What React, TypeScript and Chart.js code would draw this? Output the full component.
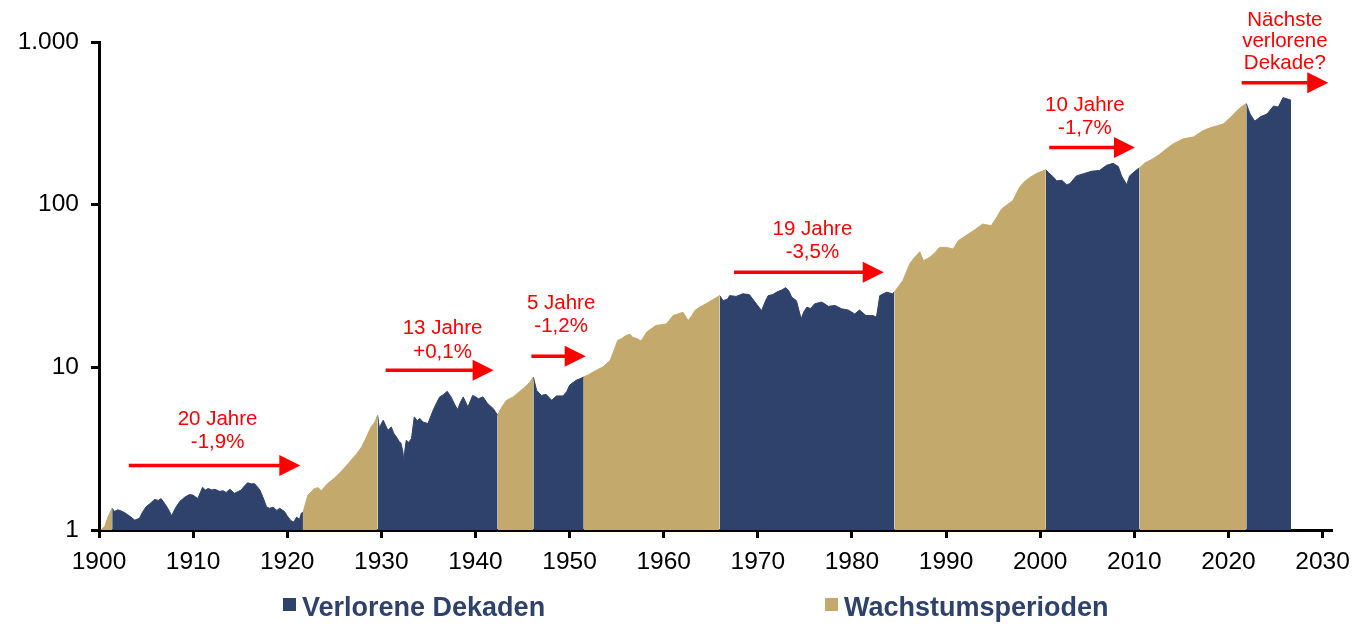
import React, { useEffect, useRef } from "react";
import { Chart, registerables } from "chart.js";

Chart.register(...registerables);

// ---------- data ----------
const years = [
  1900.2, 1900.6, 1901.0, 1901.4, 1901.65, 1902.0, 1902.36, 1902.7, 1903.06, 1903.4,
  1903.8, 1904.3, 1904.6, 1905.0, 1905.4, 1905.9, 1906.3, 1906.6, 1907.1, 1907.5,
  1907.7, 1908.2, 1908.6, 1909.1, 1909.6, 1909.97, 1910.5, 1911.0, 1911.3, 1911.6,
  1912.0, 1912.3, 1912.8, 1913.2, 1913.5, 1913.9, 1914.4, 1915.1, 1915.5, 1915.8,
  1916.2, 1916.5, 1916.8, 1917.1, 1917.4, 1917.8, 1918.1, 1918.5, 1918.9, 1919.2,
  1919.7, 1920.0, 1920.4, 1920.7, 1921.0, 1921.3, 1921.5, 1921.67, 1922.2, 1922.9,
  1923.3, 1923.6, 1924.3, 1925.0, 1925.7, 1926.2, 1926.8, 1927.4, 1927.9, 1928.4,
  1928.9, 1929.3, 1929.6, 1929.8, 1930.0, 1930.2, 1930.45, 1930.7, 1931.06, 1931.3,
  1931.6, 1931.9, 1932.1, 1932.3, 1932.4, 1932.5, 1932.65, 1932.9, 1933.2, 1933.5,
  1933.8, 1934.1, 1934.4, 1934.95, 1935.5, 1935.9, 1936.2, 1936.6, 1937.0, 1937.4,
  1937.8, 1938.1, 1938.4, 1938.7, 1939.2, 1939.7, 1940.0, 1940.3, 1940.8, 1941.3,
  1941.9, 1942.35, 1942.8, 1943.3, 1944.0, 1944.5, 1945.05, 1945.4, 1945.8, 1946.15,
  1946.5, 1947.0, 1947.5, 1948.1, 1948.6, 1949.3, 1949.7, 1950.0, 1950.7, 1951.1,
  1951.5, 1952.0, 1952.5, 1953.0, 1953.55, 1954.3, 1954.7, 1955.1, 1955.5, 1956.0,
  1956.4, 1956.7, 1957.2, 1957.6, 1958.2, 1958.7, 1959.2, 1959.8, 1960.3, 1960.7,
  1961.0, 1961.5, 1962.05, 1962.6, 1963.0, 1963.3, 1963.8, 1964.5, 1965.2, 1965.95,
  1966.3, 1966.8, 1967.0, 1967.7, 1968.4, 1969.1, 1969.7, 1970.4, 1970.8, 1971.1,
  1971.6, 1972.0, 1972.5, 1972.97, 1973.3, 1973.6, 1974.1, 1974.6, 1974.9, 1975.2,
  1975.6, 1976.05, 1976.8, 1977.5, 1978.2, 1978.9, 1979.6, 1980.3, 1980.8, 1981.5,
  1982.25, 1982.6, 1982.96, 1983.7, 1984.3, 1984.5, 1985.4, 1986.15, 1986.6, 1987.2,
  1987.6, 1988.3, 1988.8, 1989.3, 1990.05, 1990.75, 1991.3, 1992.1, 1992.9, 1993.9,
  1994.8, 1995.4, 1995.9, 1996.5, 1997.1, 1997.8, 1998.3, 1998.9, 1999.6, 2000.6,
  2000.85, 2001.4, 2001.75, 2002.3, 2002.8, 2003.15, 2003.85, 2004.55, 2005.45, 2006.3,
  2007.05, 2007.75, 2008.3, 2008.65, 2009.2, 2009.5, 2010.25, 2010.55, 2011.1, 2011.7,
  2012.2, 2012.7, 2013.4, 2014.1, 2015.2, 2016.3, 2017.3, 2018.0, 2018.75, 2019.45,
  2020.2, 2020.9, 2021.4, 2021.9, 2022.3, 2022.8, 2023.4, 2024.1, 2024.8, 2025.3,
  2025.8, 2026.4, 2026.65,
];

const values = [
  1.0, 1.05, 1.22, 1.36, 1.3, 1.33, 1.31, 1.28, 1.24, 1.2,
  1.15, 1.18, 1.28, 1.39, 1.45, 1.54, 1.52, 1.56, 1.42, 1.3,
  1.22, 1.39, 1.5, 1.59, 1.65, 1.64, 1.56, 1.83, 1.76, 1.8,
  1.76, 1.78, 1.73, 1.74, 1.7, 1.78, 1.68, 1.76, 1.88, 1.95,
  1.92, 1.93, 1.85, 1.76, 1.6, 1.39, 1.36, 1.38, 1.32, 1.36,
  1.3, 1.22, 1.14, 1.12, 1.2, 1.16, 1.27, 1.28, 1.64, 1.8,
  1.82, 1.74, 1.93, 2.08, 2.28, 2.45, 2.69, 2.95, 3.24, 3.7,
  4.3, 4.6, 5.08, 4.2, 4.51, 4.73, 4.4, 4.1, 4.3, 3.95,
  3.73, 3.5, 3.4, 3.0, 2.63, 3.1, 3.57, 3.45, 3.65, 4.96,
  4.7, 4.85, 4.62, 4.51, 5.45, 6.1, 6.58, 6.8, 7.12, 6.58,
  5.9, 5.5, 6.1, 6.58, 5.7, 6.72, 6.6, 6.41, 6.58, 5.98,
  5.57, 5.08, 5.7, 6.27, 6.58, 6.95, 7.39, 7.7, 8.13, 8.72,
  7.21, 6.72, 6.82, 6.27, 6.67, 6.67, 7.1, 7.77, 8.33, 8.5,
  8.72, 9.0, 9.35, 9.7, 10.05, 11.0, 12.6, 14.6, 15.0, 15.7,
  16.0, 15.3, 15.0, 14.5, 16.5, 17.3, 18.1, 18.3, 18.5, 19.8,
  20.8, 21.3, 21.8, 19.4, 20.8, 22.3, 23.4, 24.6, 26.0, 27.6,
  25.7, 26.3, 27.6, 27.3, 28.3, 28.0, 25.2, 22.3, 25.5, 27.6,
  28.0, 29.0, 29.8, 30.9, 29.5, 27.0, 25.7, 19.9, 22.0, 23.4,
  23.0, 24.6, 25.2, 23.7, 24.0, 22.9, 22.5, 21.3, 22.5, 20.8,
  20.8, 20.3, 27.6, 29.0, 28.3, 29.0, 34.1, 43.3, 47.0, 51.3,
  45.2, 47.6, 50.5, 54.6, 54.6, 53.3, 60.1, 64.5, 69.1, 76.0,
  74.2, 84.0, 94.0, 100.0, 105.9, 127.6, 138.0, 146.8, 155.4, 163.8,
  158.1, 148.0, 140.0, 141.1, 132.7, 134.6, 150.3, 154.6, 160.5, 162.2,
  174.5, 179.5, 171.7, 150.3, 132.7, 150.3, 163.8, 168.0, 180.0, 187.5,
  195.0, 204.4, 220.0, 236.0, 253.8, 261.0, 285.0, 296.0, 305.0, 313.0,
  343.0, 378.0, 400.0, 418.0, 361.0, 326.0, 347.0, 361.0, 404.0, 398.0,
  455.0, 444.0, 438.0,
];

// period boundaries (years) and the kind of each period between them
const periodBounds = [
  1900.2, 1901.4, 1921.67, 1929.6, 1942.35, 1946.15, 1951.5, 1965.95, 1984.5, 2000.6,
  2010.55, 2021.9, 2026.65,
];
const periodKinds = [
  "growth", "lost", "growth", "lost", "growth", "lost",
  "growth", "lost", "growth", "lost", "growth", "lost",
];

const seriesNames = ["Verlorene Dekaden", "Wachstumsperioden"];
const xTicks = [1900, 1910, 1920, 1930, 1940, 1950, 1960, 1970, 1980, 1990, 2000, 2010, 2020, 2030];
const yTicks = [1, 10, 100, 1000];
const yTickLabels = ["1", "10", "100", "1.000"];

// annotations: text lines and arrow (in data coordinates)
const annoLines = [
  ["20 Jahre", "-1,9%"],
  ["13 Jahre", "+0,1%"],
  ["5 Jahre", "-1,2%"],
  ["19 Jahre", "-3,5%"],
  ["10 Jahre", "-1,7%"],
  ["Nächste", "verlorene", "Dekade?"],
];
const annoTextYear = [1912.6, 1936.5, 1949.1, 1975.8, 2004.75, 2026.0];
const annoTextValue = [4.8, 17.3, 24.8, 71.0, 409, 1365];
const arrowFrom = [1903.17, 1930.45, 1945.94, 1967.47, 2000.96, 2021.41];
const arrowTo = [1921.39, 1941.93, 1951.71, 1983.38, 2010.07, 2030.61];
const arrowValue = [2.49, 9.59, 11.68, 38.4, 224.6, 562.6];

// ---------- styles ----------
const NAVY = "#2F426C";
const TAN = "#C3A96C";
const RED = "#FF0000";
const FONT = "'Liberation Sans', Arial, Helvetica, sans-serif";

const overlayPlugin = {
  id: "overlay",
  afterDraw(chart: any) {
    const { ctx } = chart;
    const xs = chart.scales.x;
    const ys = chart.scales.y;
    ctx.save();
    // annotations
    for (let i = 0; i < annoLines.length; i++) {
      const lines = annoLines[i];
      const tx = xs.getPixelForValue(annoTextYear[i]);
      const ty = ys.getPixelForValue(annoTextValue[i]);
      const gap = lines.length > 2 ? 21.7 : 23.5;
      ctx.fillStyle = RED;
      ctx.font = `20.5px ${FONT}`;
      ctx.textAlign = "center";
      ctx.textBaseline = "middle";
      lines.forEach((l, k) => ctx.fillText(l, tx, ty + k * gap));
      const x1 = xs.getPixelForValue(arrowFrom[i]);
      const x2 = xs.getPixelForValue(arrowTo[i]);
      const ay = ys.getPixelForValue(arrowValue[i]);
      const head = 21;
      ctx.strokeStyle = RED;
      ctx.lineWidth = 3.5;
      ctx.beginPath();
      ctx.moveTo(x1, ay);
      ctx.lineTo(x2 - head + 1, ay);
      ctx.stroke();
      ctx.beginPath();
      ctx.moveTo(x2 - head, ay - 10.5);
      ctx.lineTo(x2, ay);
      ctx.lineTo(x2 - head, ay + 10.5);
      ctx.closePath();
      ctx.fill();
    }
    // legend
    const items = [
      { name: seriesNames[0], color: NAVY, x: 283 },
      { name: seriesNames[1], color: TAN, x: 825 },
    ];
    ctx.font = `bold 27px ${FONT}`;
    ctx.textAlign = "left";
    ctx.textBaseline = "middle";
    items.forEach((it) => {
      ctx.fillStyle = it.color;
      ctx.fillRect(it.x, 598, 13, 13);
      ctx.fillStyle = NAVY;
      ctx.fillText(it.name, it.x + 19, 608.5);
    });
    ctx.restore();
  },
};

export default function App() {
  const ref = useRef<HTMLCanvasElement | null>(null);
  useEffect(() => {
    if (!ref.current) return;
    const datasets = periodKinds.map((kind, i) => {
      const a = periodBounds[i];
      const b = periodBounds[i + 1];
      const pts = years
        .map((yr, j) => ({ x: yr, y: values[j] }))
        .filter((p) => p.x >= a - 1e-9 && p.x <= b + 1e-9);
      const color = kind === "lost" ? NAVY : TAN;
      return {
        label: kind === "lost" ? seriesNames[0] : seriesNames[1],
        data: pts,
        fill: "start",
        backgroundColor: color,
        borderColor: color,
        borderWidth: 1,
        pointRadius: 0,
        tension: 0,
      };
    });
    const chart = new Chart(ref.current, {
      type: "line",
      data: { datasets: datasets as any },
      options: {
        animation: false,
        responsive: false,
        events: [],
        layout: { padding: { top: 42, right: 39, left: 0, bottom: 0 } },
        plugins: { legend: { display: false }, tooltip: { enabled: false } },
        scales: {
          x: {
            type: "linear",
            min: 1900,
            max: 2030.9,
            afterBuildTicks: (s: any) => {
              s.ticks = xTicks.map((v) => ({ value: v }));
            },
            afterFit: (s: any) => {
              s.height = 111;
            },
            ticks: {
              callback: (v: any) => String(v),
              font: { family: FONT, size: 24.5 },
              color: "#000",
              padding: 10,
              maxRotation: 0,
              autoSkip: false,
            },
            grid: {
              display: true,
              drawOnChartArea: false,
              drawTicks: true,
              tickLength: 8,
              color: "#000",
              lineWidth: 3,
            },
            border: { display: true, color: "#000", width: 3 },
          },
          y: {
            type: "logarithmic",
            min: 1,
            max: 1000,
            afterBuildTicks: (s: any) => {
              s.ticks = yTicks.map((v) => ({ value: v }));
            },
            afterFit: (s: any) => {
              s.width = 99;
            },
            ticks: {
              callback: (v: any) => {
                const idx = yTicks.indexOf(Number(v));
                return idx >= 0 ? yTickLabels[idx] : "";
              },
              font: { family: FONT, size: 24.5 },
              color: "#000",
              padding: 12,
              autoSkip: false,
            },
            grid: {
              display: true,
              drawOnChartArea: false,
              drawTicks: true,
              tickLength: 8,
              color: "#000",
              lineWidth: 3,
            },
            border: { display: true, color: "#000", width: 3 },
          },
        },
      },
      plugins: [overlayPlugin],
    });
    return () => chart.destroy();
  }, []);
  return (
    <div style={{ position: "absolute", left: 0, top: 0, width: 1370, height: 641, background: "#fff" }}>
      <canvas ref={ref} width={1370} height={641} style={{ display: "block" }} />
    </div>
  );
}
